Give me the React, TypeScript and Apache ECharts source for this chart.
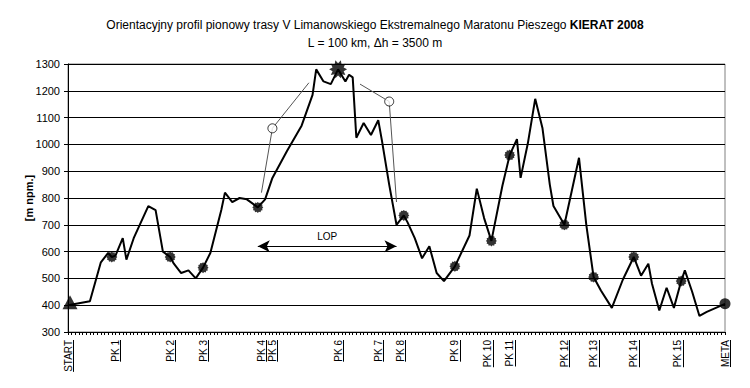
import React, { useEffect, useRef } from 'react';
import * as echarts from 'echarts';

// Axis: one tick per profile step (0..180), labelled at checkpoints
const labelIdx = [0, 13, 28, 37, 53, 56, 74, 85, 91, 106, 115, 121, 136, 144, 155, 167, 180];
const labelNames = ['START', 'PK 1', 'PK 2', 'PK 3', 'PK 4', 'PK 5', 'PK 6', 'PK 7', 'PK 8', 'PK 9', 'PK 10', 'PK 11', 'PK 12', 'PK 13', 'PK 14', 'PK 15', 'META'];

// Elevation profile vertices
const profileIdx = [0, 6, 9, 11, 12, 13, 15, 16, 18, 22, 24, 26, 28, 29, 31, 33, 35, 37, 39, 42, 43, 45, 47, 49, 52, 54, 56, 60, 64, 67, 68, 70, 72, 74, 76, 77, 78, 79, 81, 83, 85, 86, 88, 90, 92, 93, 95, 97, 99, 101, 103, 106, 110, 112, 114, 116, 119, 121, 123, 124, 126, 128, 130, 132, 133, 136, 138, 140, 142, 144, 146, 149, 152, 155, 157, 159, 160, 162, 164, 166, 168, 169, 171, 173, 175, 180];
const profileElev = [400, 415, 560, 595, 580, 585, 650, 570, 650, 770, 755, 600, 580, 555, 520, 530, 500, 540, 595, 755, 820, 785, 800, 795, 765, 795, 875, 975, 1070, 1185, 1280, 1235, 1225, 1280, 1235, 1260, 1250, 1025, 1080, 1035, 1090, 1015, 850, 700, 735, 710, 650, 575, 620, 520, 490, 545, 660, 835, 725, 640, 845, 960, 1020, 875, 1005, 1170, 1060, 850, 770, 700, 825, 950, 700, 505, 455, 390, 495, 580, 510, 555, 480, 380, 465, 390, 490, 530, 450, 360, 375, 405];

// Checkpoints on the route
const checkpointIdx = [12, 28, 37, 52, 92, 106, 116, 121, 136, 144, 155, 168];
const checkpointElev = [580, 580, 540, 765, 735, 545, 640, 960, 700, 505, 580, 490];
const summitIdx = [74];
const summitElev = [1280];
const startIdx = [0];
const startElev = [400];
const metaIdx = [180];
const metaElev = [405];

// LOP side lines with PK 5 / PK 7
const lopLeftIdx = [53, 56, 66];
const lopLeftElev = [820, 1060, 1230];
const lopRightIdx = [80, 88, 90];
const lopRightElev = [1225, 1160, 785];
const lopPointIdx = [56, 88];
const lopPointElev = [1060, 1160];
const lopArrowIdx = [52, 90];
const lopArrowElev = 620;

const FONT = 'Arial, "Liberation Sans", sans-serif';

function starPath(n: number, ratio: number): string {
  const pts: string[] = [];
  for (let i = 0; i < n * 2; i++) {
    const a = (Math.PI * i) / n;
    const r = i % 2 === 0 ? 10 : 10 * ratio;
    pts.push(`${(r * Math.cos(a)).toFixed(2)} ${(r * Math.sin(a)).toFixed(2)}`);
  }
  return 'path://M' + pts.join(' L') + ' Z';
}

const zip = (xs: number[], ys: number[]) => xs.map((x, i) => [x, ys[i]]);

export default function App() {
  const ref = useRef<HTMLDivElement>(null);
  useEffect(() => {
    if (!ref.current) return;
    const chart = echarts.init(ref.current, undefined, { renderer: 'svg' });
    const canvas = document.createElement('canvas');
    const ctx = canvas.getContext('2d')!;
    ctx.font = `10px ${FONT}`;
    const labelWidths = labelNames.map((n) => ctx.measureText(n).width);
    const labelMap: Record<number, string> = {};
    labelIdx.forEach((v, i) => (labelMap[v] = labelNames[i]));

    const option: any = {
      animation: false,
      backgroundColor: '#fff',
      title: {
        left: 'center',
        top: 11,
        text: 'Orientacyjny profil pionowy trasy V Limanowskiego Ekstremalnego Maratonu Pieszego {b|KIERAT 2008}\n{n|L = 100 km, Δh = 3500 m}',
        textStyle: {
          fontFamily: FONT,
          fontSize: 12,
          fontWeight: 'normal',
          color: '#000',
          lineHeight: 18,
          align: 'center',
          rich: {
            b: { fontFamily: FONT, fontSize: 12, fontWeight: 'bold', color: '#000', lineHeight: 18 },
            n: { fontFamily: FONT, fontSize: 12, color: '#000', lineHeight: 18 },
          },
        },
      },
      grid: {
        left: 68,
        right: 25,
        top: 64,
        bottom: 56,
        show: true,
        borderColor: '#808080',
        borderWidth: 1,
        backgroundColor: 'transparent',
      },
      xAxis: {
        type: 'value',
        min: 0,
        max: 180,
        interval: 1,
        axisLine: { show: true, lineStyle: { color: '#000', width: 1 } },
        axisTick: { show: true, length: 3, lineStyle: { color: '#000' } },
        splitLine: { show: false },
        axisLabel: {
          rotate: 90,
          margin: 8,
          fontSize: 10,
          fontFamily: FONT,
          color: '#000',
          showMinLabel: true,
          showMaxLabel: true,
          formatter: (v: number) => labelMap[v] ?? '',
        },
      },
      yAxis: {
        type: 'value',
        min: 300,
        max: 1300,
        interval: 100,
        name: '[m npm.]',
        nameLocation: 'middle',
        nameGap: 34,
        nameMoveOverlap: false,
        nameTextStyle: { fontFamily: FONT, fontSize: 11, fontWeight: 'bold', color: '#000' },
        axisLine: { show: true, lineStyle: { color: '#000', width: 1 } },
        axisTick: { show: true, length: 4, lineStyle: { color: '#000' } },
        splitLine: { show: true, lineStyle: { color: '#000', width: 1 } },
        axisLabel: { fontSize: 11, fontFamily: FONT, color: '#000', margin: 8, formatter: (v: number) => String(v) },
      },
      series: [
        {
          type: 'line',
          name: 'lopLeft',
          data: zip(lopLeftIdx, lopLeftElev),
          showSymbol: false,
          lineStyle: { color: '#555', width: 1 },
          z: 2,
        },
        {
          type: 'line',
          name: 'lopRight',
          data: zip(lopRightIdx, lopRightElev),
          showSymbol: false,
          lineStyle: { color: '#555', width: 1 },
          z: 2,
        },
        {
          type: 'line',
          name: 'profile',
          data: zip(profileIdx, profileElev),
          showSymbol: false,
          lineStyle: { color: '#000', width: 2 },
          z: 3,
          markLine: {
            silent: true,
            symbol: ['arrow', 'arrow'],
            symbolSize: [9, 12],
            lineStyle: { color: '#000', width: 1, type: 'solid' },
            label: {
              show: true,
              formatter: 'LOP',
              position: 'insideMiddleTop',
              distance: 5,
              fontFamily: FONT,
              fontSize: 10,
              color: '#000',
            },
            data: [[{ coord: [lopArrowIdx[0], lopArrowElev] }, { coord: [lopArrowIdx[1], lopArrowElev] }]],
          },
        },
        {
          type: 'scatter',
          name: 'lopPoints',
          data: zip(lopPointIdx, lopPointElev),
          symbol: 'circle',
          symbolSize: 9,
          itemStyle: { color: '#fff', borderColor: '#000', borderWidth: 1 },
          z: 4,
        },
        {
          type: 'scatter',
          name: 'checkpoints',
          data: zip(checkpointIdx, checkpointElev),
          symbol: starPath(12, 0.82),
          symbolSize: 11,
          itemStyle: { color: '#000' },
          z: 5,
        },
        {
          type: 'scatter',
          name: 'summit',
          data: zip(summitIdx, summitElev),
          symbol: starPath(10, 0.65),
          symbolSize: 18,
          itemStyle: { color: '#000' },
          z: 5,
        },
        {
          type: 'scatter',
          name: 'start',
          data: zip(startIdx, startElev),
          symbol: 'triangle',
          symbolSize: [15, 14],
          symbolOffset: [2, -3],
          itemStyle: { color: '#000' },
          z: 5,
        },
        {
          type: 'scatter',
          name: 'meta',
          data: zip(metaIdx, metaElev),
          symbol: 'circle',
          symbolSize: 11,
          itemStyle: { color: '#000' },
          z: 5,
        },
        {
          type: 'custom',
          name: 'underlines',
          clip: false,
          silent: true,
          data: labelIdx.map((v) => [v, 300]),
          renderItem: (params: any, api: any) => {
            const p = api.coord([api.value(0), 300]);
            const w = labelWidths[params.dataIndex];
            const x = Math.round(p[0]) + 5.5;
            return {
              type: 'line',
              shape: { x1: x, y1: p[1] + 8, x2: x, y2: p[1] + 8 + w },
              style: { stroke: '#000', lineWidth: 1 },
            };
          },
          z: 5,
        },
      ],
    };
    chart.setOption(option);
    return () => chart.dispose();
  }, []);
  return <div ref={ref} style={{ position: 'fixed', left: 0, top: 0, width: 750, height: 388, background: '#fff' }} />;
}
